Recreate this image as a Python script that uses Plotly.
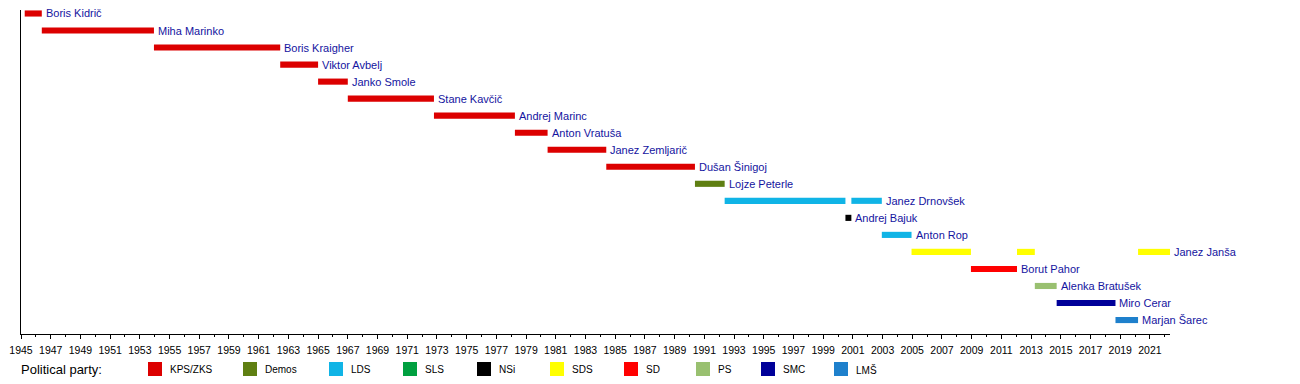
import plotly.graph_objects as go

# ---------------- data ----------------
names = ["Boris Kidrič", "Miha Marinko", "Boris Kraigher", "Viktor Avbelj", "Janko Smole",
         "Stane Kavčič", "Andrej Marinc", "Anton Vratuša", "Janez Zemljarič", "Dušan Šinigoj",
         "Lojze Peterle", "Janez Drnovšek", "Andrej Bajuk", "Anton Rop", "Janez Janša",
         "Borut Pahor", "Alenka Bratušek", "Miro Cerar", "Marjan Šarec"]

term_person = ["Boris Kidrič", "Miha Marinko", "Boris Kraigher", "Viktor Avbelj", "Janko Smole",
               "Stane Kavčič", "Andrej Marinc", "Anton Vratuša", "Janez Zemljarič", "Dušan Šinigoj",
               "Lojze Peterle", "Janez Drnovšek", "Andrej Bajuk", "Janez Drnovšek", "Anton Rop",
               "Janez Janša", "Borut Pahor", "Janez Janša", "Alenka Bratušek", "Miro Cerar",
               "Marjan Šarec", "Janez Janša"]
term_start = [1945.25, 1946.40, 1953.95, 1962.45, 1965.00,
              1967.00, 1972.80, 1978.25, 1980.45, 1984.40,
              1990.37, 1992.37, 2000.50, 2000.90, 2002.95,
              2004.95, 2008.95, 2012.05, 2013.25, 2014.72,
              2018.68, 2020.20]
term_end = [1946.40, 1953.95, 1962.45, 1965.00, 1967.00,
            1972.80, 1978.25, 1980.45, 1984.40, 1990.37,
            1992.37, 2000.50, 2000.90, 2002.95, 2004.95,
            2008.95, 2012.05, 2013.25, 2014.72, 2018.68,
            2020.20, 2022.35]
term_party = ["KPS/ZKS", "KPS/ZKS", "KPS/ZKS", "KPS/ZKS", "KPS/ZKS",
              "KPS/ZKS", "KPS/ZKS", "KPS/ZKS", "KPS/ZKS", "KPS/ZKS",
              "Demos", "LDS", "NSi", "LDS", "LDS",
              "SDS", "SD", "SDS", "PS", "SMC",
              "LMŠ", "SDS"]

parties = ["KPS/ZKS", "Demos", "LDS", "SLS", "NSi", "SDS", "SD", "PS", "SMC", "LMŠ"]
party_colors = ["#dc0000", "#5f7f12", "#10b4e6", "#00a040", "#000000",
                "#ffff00", "#ff0000", "#99c070", "#000099", "#1e80cc"]

axis_start, axis_end = 1945, 2022.35

# ---------------- figure ----------------
FONT = "Liberation Sans, Arial, sans-serif"
TEXT_BLUE = "#1414a0"
W, H = 1300, 384
OFF = 8  # default page body margin
# plot area in page pixels: left 21, right 1170, top 10, bottom 334
ML = 21 - OFF
MT = 10 - OFF
MR = W - (1170 - OFF)
MB = H - (334 - OFF)

color_of = dict(zip(parties, party_colors))
row_of = {n: i for i, n in enumerate(names)}

fig = go.Figure()
fig.add_trace(go.Bar(
    orientation="h",
    y=[row_of[p] for p in term_person],
    base=term_start,
    x=[e - s for s, e in zip(term_start, term_end)],
    marker=dict(color=[color_of[p] for p in term_party], line=dict(width=0)),
    width=0.36,
    hoverinfo="skip",
    showlegend=False,
))

# name labels at end of each person's last term
last_end = {}
for p, e in zip(term_person, term_end):
    last_end[p] = max(last_end.get(p, 0), e)

plot_w = W - ML - MR
plot_h = H - MT - MB


def px_x(px):
    return (px - OFF - ML) / plot_w


def px_y(py):
    return (H - MB - (py - OFF)) / plot_h


annotations = []
for i, nm in enumerate(names):
    annotations.append(dict(
        x=last_end[nm], y=i, xref="x", yref="y",
        xanchor="left", yanchor="middle", xshift=2, showarrow=False,
        text=nm, font=dict(family=FONT, size=11, color=TEXT_BLUE),
    ))

shapes = []
annotations.append(dict(
    x=px_x(19), y=px_y(369), xref="paper", yref="paper",
    xanchor="left", yanchor="middle", showarrow=False,
    text="Political party:", font=dict(family=FONT, size=13, color="black"),
))
sw_left = [148, 243, 329, 403, 477, 550, 624, 696, 761, 834]
for party, col, sx in zip(parties, party_colors, sw_left):
    shapes.append(dict(
        type="rect", xref="paper", yref="paper",
        x0=px_x(sx), x1=px_x(sx + 14), y0=px_y(376), y1=px_y(362),
        fillcolor=col, line=dict(width=0),
    ))
    annotations.append(dict(
        x=px_x(sx + 20), y=px_y(369.5), xref="paper", yref="paper",
        xanchor="left", yanchor="middle", showarrow=False,
        text=party, font=dict(family=FONT, size=10, color="black"),
    ))

n = len(names)
fig.update_layout(
    width=W, height=H,
    margin=dict(l=ML, r=MR, t=MT, b=MB, pad=0, autoexpand=False),
    plot_bgcolor="white", paper_bgcolor="white",
    font=dict(family=FONT, size=11, color="black"),
    barmode="overlay",
    shapes=shapes,
    annotations=annotations,
    xaxis=dict(
        range=[axis_start, axis_end],
        tick0=1945, dtick=2,
        ticks="outside", ticklen=4, tickwidth=1, tickcolor="black",
        minor=dict(dtick=1, tick0=1945, ticks="outside", ticklen=2, tickcolor="black", showgrid=False),
        showline=True, linecolor="black", linewidth=1,
        showgrid=False, zeroline=False, automargin=False,
        tickfont=dict(family=FONT, size=10.5, color="black"),
        ticklabelstandoff=2,
    ),
    yaxis=dict(
        range=[n - 1 + 0.82, -0.205],
        showticklabels=False, ticks="",
        showline=True, linecolor="black", linewidth=1,
        showgrid=False, zeroline=False, automargin=False,
    ),
)

fig.write_html("out.html")
